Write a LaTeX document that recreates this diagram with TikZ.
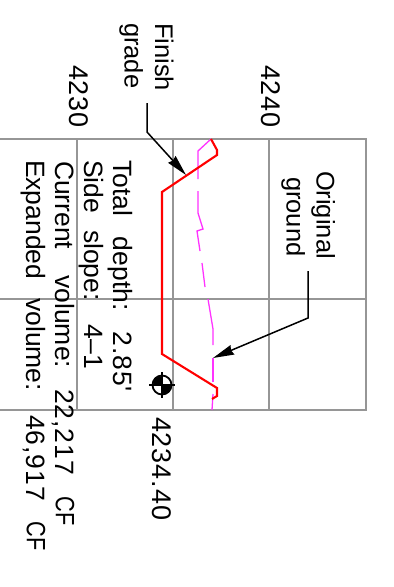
\documentclass[tikz,border=0pt]{standalone}
\usepackage{fontspec}
\setmainfont{Liberation Sans}
\newfontfamily\widefam[LetterSpace=3.5]{Liberation Sans}
\usetikzlibrary{arrows.meta}
\definecolor{gridgrey}{RGB}{150,150,150}
\definecolor{groundpink}{RGB}{255,50,255}
\newcommand{\gp}[1]{\hspace{#1pt}}
\newcommand{\nums}[1]{{\widefam #1}}
\newcommand{\cfunit}{\scalebox{.82}[1]{CF}}
\tikzset{
  gridline/.style={draw=gridgrey,line width=2.2pt},
  finish/.style={draw=red,line width=2.1pt,line join=miter},
  groundline/.style={draw=groundpink,line width=1.3pt},
  leader/.style={draw=black,line width=1.5pt,-{Stealth[length=21pt,width=10pt,inset=1.5pt]}},
  lbl/.style={rotate=-90,inner sep=0pt,outer sep=0pt,font=\fontsize{26.5}{27}\selectfont,anchor=north west,text=black},
  lbln/.style={lbl,font=\fontsize{25.5}{27}\selectfont},
  lblw/.style={lbl,font=\widefam\fontsize{27}{27}\selectfont}
}
\begin{document}
\begin{tikzpicture}[x=1pt,y=-1pt]
\useasboundingbox (0,0) rectangle (394,587);
\fill[white] (0,0) rectangle (394,587);
% grid
\draw[gridline] (0,139) -- (367,139);
\draw[gridline] (0,299) -- (367,299);
\draw[gridline] (0,410) -- (367,410);
\draw[gridline] (77,139) -- (77,410);
\draw[gridline] (173,139) -- (173,410);
\draw[gridline] (269,139) -- (269,410);
\draw[gridline] (366,139) -- (366,410);
% existing ground
\draw[groundline] (211,139) -- (198,151) -- (198,179);
\draw[groundline] (198,191) -- (198,213) -- (203,229) -- (197,231) -- (200,251);
\draw[groundline] (202,263) -- (205,287);
\draw[groundline] (208,299) -- (213,329) -- (213,345);
\draw[groundline] (213,358) -- (213,382);
\draw[groundline] (213,394) -- (212,410);
% finish grade
\draw[finish] (211,139) -- (217,150) -- (217,155) -- (162,192) -- (162,354) -- (217,388) -- (217,396) -- (212,399);
% benchmark
\fill[black] (162,385) -- (162,376) arc[start angle=270,end angle=180,radius=9] -- cycle;
\fill[black] (162,385) -- (162,394) arc[start angle=90,end angle=0,radius=9] -- cycle;
\draw[black,line width=1.8pt] (162,385) circle[radius=9.5];
\draw[black,line width=1.4pt] (149,385) -- (175,385) (162,372) -- (162,398);
% leaders
\coordinate (f0) at (147,103);
\coordinate (f1) at (147,132);
\coordinate (f2) at (186,175);
\coordinate (g0) at (308,271);
\coordinate (g1) at (308,318);
\coordinate (g2) at (213,358);
\draw[leader] (f0) -- (f1) -- (f2);
\draw[leader] (g0) -- (g1) -- (g2);
% labels
\node[lblw] (t4240) at (280,65) {4240};
\node[lblw] (t4230) at (88,65) {4230};
\node[lbln] (tfin) at (173.5,23) {Finish};
\node[lbln] (tgra) at (143,23) {grade};
\node[lbln] (torig) at (335,171) {Original};
\node[lbln] (tgrou) at (305,177) {ground};
\node[lbl] (tdepth) at (133,160) {Total\gp{21}depth:\gp{21}\nums{2.85'}};
\node[lbl] (tside) at (104,160) {Side\gp{17}slope:\gp{24}4–1};
\node[lbl] (tcur) at (75,161) {Current\gp{26}volume:\gp{21}\nums{22,217}\gp{22}\cfunit};
\node[lbl] (texp) at (46,160) {Expanded\gp{19}volume:\gp{24}\nums{46,917}\gp{21}\cfunit};
\node[lblw] (telev) at (171,417) {4234.40};
\end{tikzpicture}
\end{document}
